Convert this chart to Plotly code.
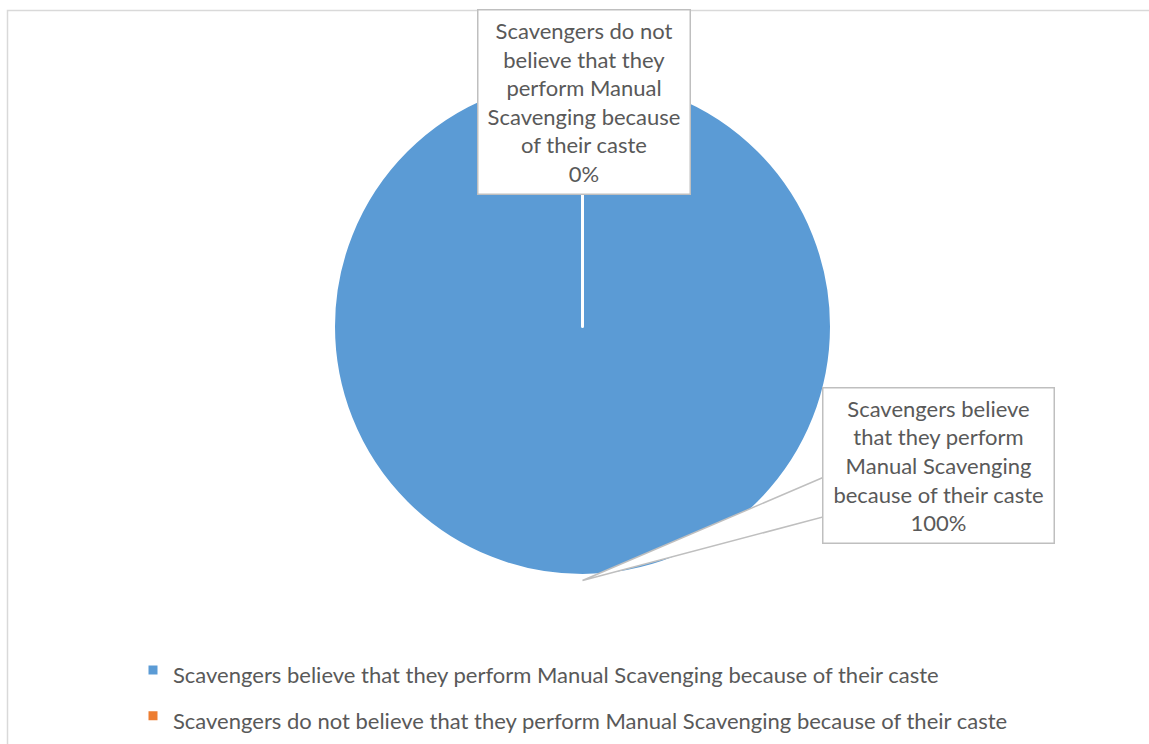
import math
import textwrap
import plotly.graph_objects as go

W, H = 1149, 744

# Survey responses
labels = [
    "Scavengers believe that they perform Manual Scavenging because of their caste",
    "Scavengers do not believe that they perform Manual Scavenging because of their caste",
]
values = [100, 0]
colors = ["#5B9BD5", "#ED7D31"]

FONT = "Lato"
TEXT_COLOR = "#595959"
BOX_LINE = "#BFBFBF"
FRAME_LINE = "#D9D9D9"
LABEL_SIZE = 22


def px(x):
    return x / W


def py(y):
    return 1 - y / H


# pie geometry (pixels); the white slice outline eats ~1.5px of the radius
cx, cy, r = 582.5, 326.5, 249

fig = go.Figure(
    go.Pie(
        labels=[f"<span style='font-size:{LABEL_SIZE}px'>{l}</span>" for l in labels],
        values=values,
        sort=False,
        direction="clockwise",
        rotation=0,
        marker=dict(colors=colors, line=dict(color="white", width=3)),
        textinfo="none",
        hovertext=labels,
        hoverinfo="text+percent",
        domain=dict(x=[px(cx - r), px(cx + r)], y=[py(cy + r), py(cy - r)]),
    )
)

# data-label callout boxes: (center x, center y, width, height, wrap width)
boxes = [
    (938, 465, 230, 154, 22),
    (583.5, 102.5, 211, 183, 18),
]
total = sum(values)
annotations = []
for lab, val, (bx, by, bw, bh, wrap) in zip(labels, values, boxes):
    text = "<br>".join(textwrap.wrap(lab, wrap)) + f"<br>{100 * val / total:.0f}%"
    annotations.append(
        dict(
            x=px(bx), y=py(by), xref="paper", yref="paper",
            xanchor="center", yanchor="middle",
            text=text, showarrow=False, align="center", valign="middle",
            width=bw, height=bh, borderpad=0,
            bgcolor="white", bordercolor=BOX_LINE, borderwidth=1.5,
            font=dict(family=FONT, size=LABEL_SIZE, color=TEXT_COLOR),
        )
    )

# wedge leader from the first label box to the middle of its arc
mid = 0.5 * (values[0] / total) * 360
tip_x = cx + r * math.sin(math.radians(mid))
tip_y = cy - r * math.cos(math.radians(mid)) + 5
box_left = boxes[0][0] - boxes[0][2] / 2
wedge = (
    f"M {px(box_left)},{py(477.5)} L {px(tip_x)},{py(tip_y)} "
    f"L {px(box_left)},{py(517)} Z"
)

shapes = [
    dict(type="path", path=wedge, xref="paper", yref="paper",
         fillcolor="white", line=dict(color=BOX_LINE, width=1.5)),
    dict(type="rect", xref="paper", yref="paper",
         x0=px(7.5), x1=px(1170), y0=py(770), y1=py(10.5),
         line=dict(color=FRAME_LINE, width=1.5), fillcolor="rgba(0,0,0,0)"),
]

fig.update_layout(
    width=W, height=H,
    margin=dict(l=0, r=0, t=0, b=0),
    paper_bgcolor="white",
    annotations=annotations,
    shapes=shapes,
    showlegend=True,
    legend=dict(
        x=px(133), y=py(642), xanchor="left", yanchor="top",
        orientation="v",
        font=dict(family=FONT, size=33, color=TEXT_COLOR),
        bgcolor="rgba(0,0,0,0)",
    ),
)

fig.write_html("out.html")
